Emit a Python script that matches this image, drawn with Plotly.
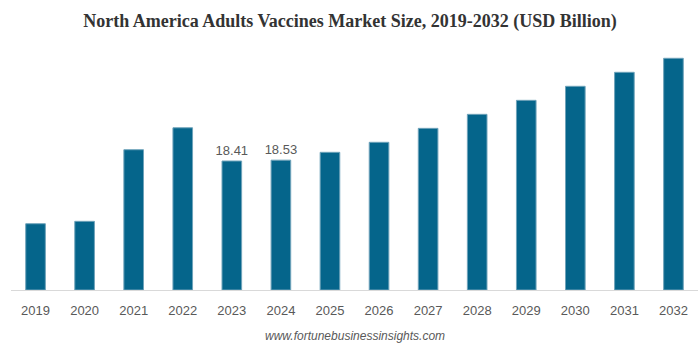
import plotly.graph_objects as go

years = ["2019", "2020", "2021", "2022", "2023", "2024", "2025",
         "2026", "2027", "2028", "2029", "2030", "2031", "2032"]
market_size = [9.46, 9.80, 20.02, 23.15, 18.41, 18.53, 19.65,
               21.08, 23.07, 25.07, 27.07, 29.07, 31.07, 33.07]
labeled_years = ["2023", "2024"]

bar_text = [f"{v:.2f}" if y in labeled_years else "" for y, v in zip(years, market_size)]

fig = go.Figure(
    go.Bar(
        x=years,
        y=market_size,
        text=bar_text,
        textposition="outside",
        constraintext="none",
        textfont=dict(family="Liberation Sans, Arial", size=13, color="#595959"),
        cliponaxis=False,
        marker=dict(color="#05658B", line=dict(color="#6FA3BA", width=1)),
        width=0.4,
        hoverinfo="x+y",
    )
)

fig.update_layout(
    width=700,
    height=348,
    margin=dict(l=11, r=2, t=40, b=58),
    paper_bgcolor="white",
    plot_bgcolor="white",
    showlegend=False,
    title=dict(
        text="<b>North America Adults Vaccines Market Size, 2019-2032 (USD Billion)</b>",
        font=dict(family="Liberation Serif, Times New Roman", size=18, color="#333333"),
        x=0.5,
        xanchor="center",
        y=1 - 21 / 348,
        yanchor="middle",
    ),
    xaxis=dict(
        type="category",
        range=[-0.5, 13.5],
        showline=True,
        linecolor="#D9D9D9",
        linewidth=1,
        ticks="outside",
        ticklen=8,
        tickcolor="rgba(0,0,0,0)",
        tickfont=dict(family="Liberation Sans, Arial", size=13, color="#595959"),
        showgrid=False,
        fixedrange=True,
    ),
    yaxis=dict(
        range=[0, 35.68],
        visible=False,
        showgrid=False,
        zeroline=False,
        fixedrange=True,
    ),
    annotations=[
        dict(
            text="<i>www.fortunebusinessinsights.com</i>",
            xref="paper",
            yref="paper",
            x=0.5,
            y=-(336 - 290) / 250,
            xanchor="center",
            yanchor="middle",
            showarrow=False,
            font=dict(family="Liberation Sans, Arial", size=12, color="#595959"),
        )
    ],
)

fig.write_html("out.html")
